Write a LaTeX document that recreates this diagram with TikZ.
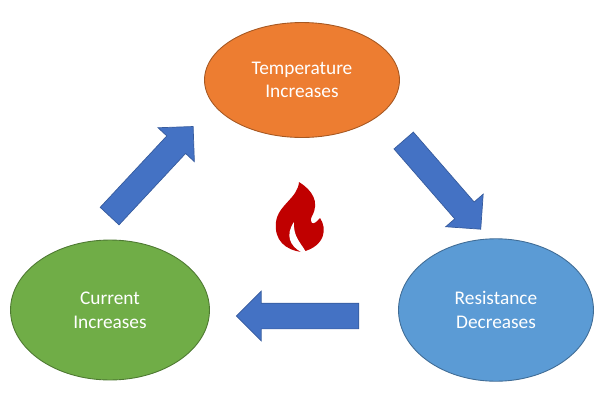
\documentclass[tikz,border=0pt]{standalone}
\usepackage{fontspec}
\setmainfont{Carlito}
\usetikzlibrary{shapes.arrows,shapes.geometric}
\definecolor{tempfill}{HTML}{ED7D31}
\definecolor{resfill}{HTML}{5B9BD5}
\definecolor{curfill}{HTML}{70AD47}
\definecolor{arrowfill}{HTML}{4472C4}
\definecolor{flamered}{HTML}{C00000}
\tikzset{
  state/.style={ellipse,draw=#1!70!black,fill=#1,text=white,align=center,
    font=\fontsize{11}{13.5}\selectfont,line width=0.5pt},
  flow/.style={single arrow,fill=arrowfill,draw=arrowfill!80!black,inner sep=0.25cm,
    single arrow head extend=0.24cm,single arrow head indent=0pt,minimum height=#1}
}
\begin{document}
\begin{tikzpicture}[x=0.02cm,y=-0.02cm]
\useasboundingbox (0,0) rectangle (600,400);
% the three states
\node[state=tempfill,minimum width=3.9cm,minimum height=2.3cm] (temp) at (302,80) {Temperature\\Increases};
\node[state=resfill,minimum width=3.9cm,minimum height=2.85cm] (res) at (496,310) {Resistance\\Decreases};
\node[state=curfill,minimum width=3.98cm,minimum height=2.8cm] (cur) at (110,310) {Current\\Increases};
% arrows between them
\node[flow=2.45cm,rotate=47] (up) at (147,176) {};
\node[flow=2.35cm,rotate=-49] (down) at (438,180) {};
\node[flow=2.45cm,rotate=180] (left) at (304,316) {};
% flame
\fill[flamered] (302,252) .. controls (285,250) and (274,240) .. (276,222)
  .. controls (278,205) and (298,198) .. (299,182)
  .. controls (312,190) and (320,202) .. (312,216)
  .. controls (309,222) and (312,228) .. (320,218)
  .. controls (327,228) and (326,246) .. (302,252) -- cycle;
\fill[white] (301,252) .. controls (290,246) and (285,235) .. (294,222)
  .. controls (293,236) and (300,242) .. (306,252) -- cycle;
\end{tikzpicture}
\end{document}
